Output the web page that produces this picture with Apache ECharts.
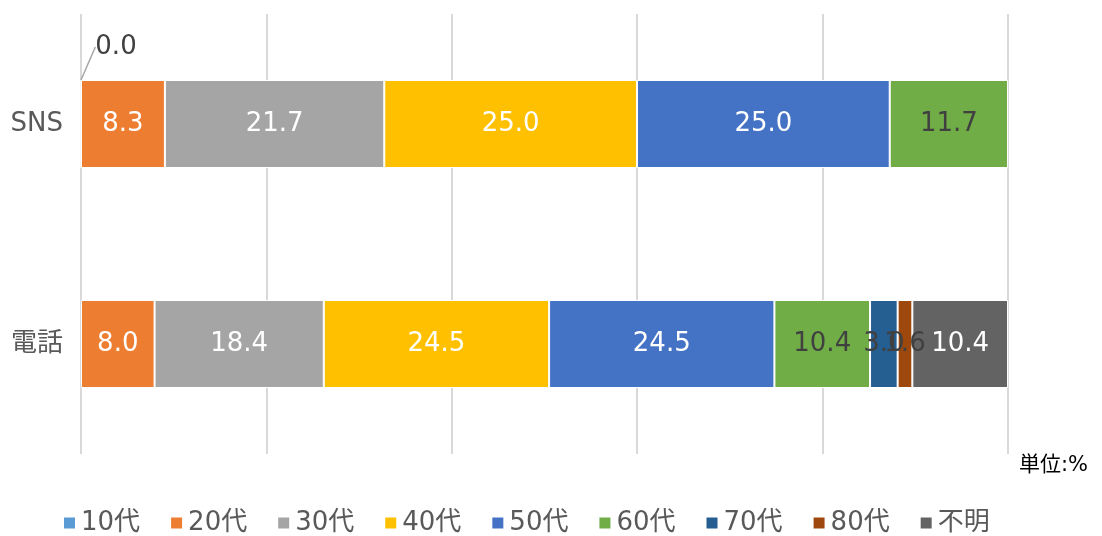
<!DOCTYPE html>
<html><head><meta charset="utf-8">
<script src="https://cdn.jsdelivr.net/npm/echarts@6/dist/echarts.min.js"></script>
<style>html,body{margin:0;padding:0;background:#fff}#c{width:1102px;height:536px}</style>
</head><body><div id="c"></div>
<script>
const categories = ['SNS', '電話'];
const seriesNames = ['10代', '20代', '30代', '40代', '50代', '60代', '70代', '80代', '不明'];
const v10 = [0.0, null];
const v20 = [8.3, 8.0];
const v30 = [21.7, 18.4];
const v40 = [25.0, 24.5];
const v50 = [25.0, 24.5];
const v60 = [11.7, 10.4];
const v70 = [null, 3.0];
const v80 = [null, 1.6];
const vUnknown = [null, 10.4];
const xTicks = [0, 20, 40, 60, 80, 100];
const unitText = '単位:%';

const allValues = [v10, v20, v30, v40, v50, v60, v70, v80, vUnknown];
const colors = ['#5B9BD5', '#ED7D31', '#A5A5A5', '#FFC000', '#4472C4', '#70AD47', '#255E91', '#9E480E', '#636363'];
const labelColors = ['#404040', '#fff', '#fff', '#fff', '#fff', '#404040', '#404040', '#404040', '#fff'];
const totals = categories.map((c, i) => allValues.reduce((s, arr) => s + (arr[i] || 0), 0));
const FONT = '"DejaVu Sans", "Noto Sans CJK JP", sans-serif';

const series = seriesNames.map((name, si) => {
  const s = {
    name, type: 'bar', stack: 'total', barWidth: '40%',
    itemStyle: { color: colors[si], borderColor: '#fff', borderWidth: 1 },
    data: allValues[si].map((v, ci) => v === null ? null : { value: v / totals[ci] * 100, raw: v }),
    label: {
      show: true, position: 'inside', color: labelColors[si], fontFamily: FONT, fontSize: 26,
      formatter: p => (p.data && p.data.raw !== undefined) ? p.data.raw.toFixed(1) : ''
    }
  };
  if (si === 0) {
    s.labelLayout = p => ({
      dx: 35, dy: -77,
      labelLinePoints: [
        [p.rect.x + 1, p.rect.y],
        [p.rect.x + 35, p.rect.y - 14],
        [p.rect.x + 35, p.rect.y - 14]
      ]
    });
    s.labelLine = { show: true, lineStyle: { color: '#a6a6a6', width: 1.5 } };
  }
  return s;
});

const chart = echarts.init(document.getElementById('c'));
chart.setOption({
  animation: false,
  color: colors,
  grid: { left: 81, right: 94, top: 14, bottom: 82 },
  xAxis: {
    type: 'value', min: xTicks[0], max: xTicks[xTicks.length - 1], interval: xTicks[1] - xTicks[0],
    axisLabel: { show: false }, axisLine: { show: false }, axisTick: { show: false },
    splitLine: { lineStyle: { color: '#d9d9d9', width: 2 } }
  },
  yAxis: {
    type: 'category', data: categories, inverse: true,
    axisLine: { show: false }, axisTick: { show: false },
    axisLabel: { color: '#595959', fontFamily: FONT, fontSize: 26, margin: 18 }
  },
  legend: {
    top: 505, left: 57, itemWidth: 13, itemHeight: 13, itemGap: 29,
    icon: 'rect',
    textStyle: { color: '#595959', fontFamily: FONT, fontSize: 26 },
    data: seriesNames
  },
  graphic: [{
    type: 'text', left: 1019, top: 455,
    style: { text: unitText, fill: '#000', font: '21px ' + FONT }
  }],
  series
});
</script></body></html>
